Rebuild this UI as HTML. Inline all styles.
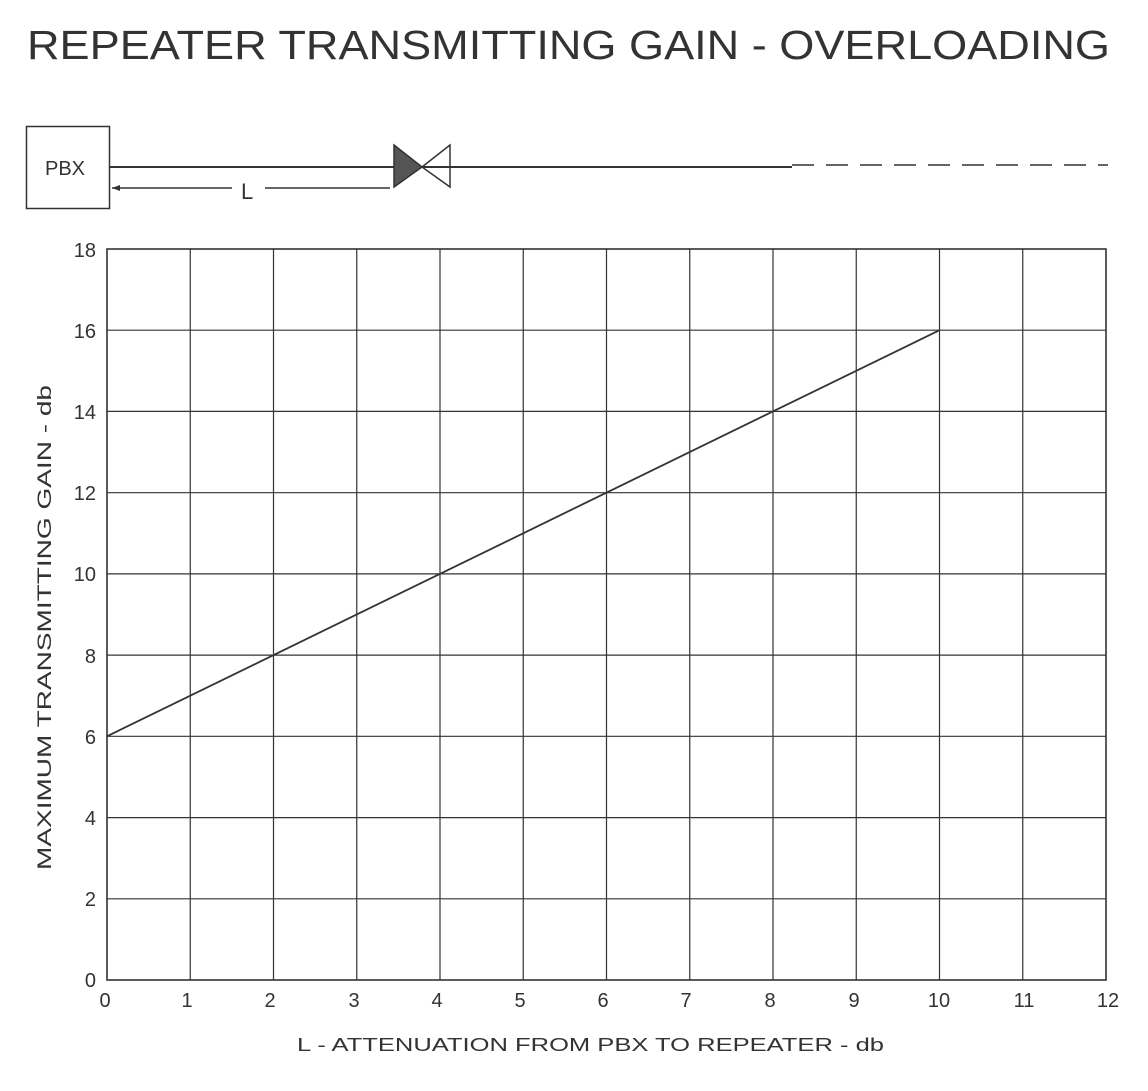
<!DOCTYPE html>
<html><head><meta charset="utf-8"><style>html,body{margin:0;padding:0;background:#fff}</style></head>
<body>
<svg width="1148" height="1086" xmlns="http://www.w3.org/2000/svg" font-family="Liberation Sans, DejaVu Sans, sans-serif" fill="#222">
<text x="27" y="59" font-size="41" textLength="1083" lengthAdjust="spacingAndGlyphs" fill="#333">REPEATER TRANSMITTING GAIN - OVERLOADING</text>
<rect x="26.5" y="126.5" width="83" height="82" fill="none" stroke="#333" stroke-width="1.5"/>
<text x="45" y="175" font-size="20" fill="#333">PBX</text>
<line x1="110" y1="167" x2="395" y2="167" stroke="#333" stroke-width="2"/>
<polygon points="394,145 422,167 394,187" fill="#555" stroke="#333" stroke-width="1.5"/>
<polygon points="450,145 422,167 450,187" fill="#fff" stroke="#333" stroke-width="1.5"/>
<line x1="422" y1="167" x2="792" y2="167" stroke="#333" stroke-width="2"/>
<line x1="792" y1="165" x2="1108" y2="165" stroke="#333" stroke-width="1.5" stroke-dasharray="22,12"/>
<line x1="112" y1="188" x2="232" y2="188" stroke="#333" stroke-width="1.5"/>
<line x1="265" y1="188" x2="390" y2="188" stroke="#333" stroke-width="1.5"/>
<polygon points="112,188 120,185 120,191" fill="#333"/>
<text x="241" y="199" font-size="22" fill="#333">L</text>
<g stroke="#333" stroke-width="1.2" fill="none">
<rect x="107" y="249" width="999" height="731" stroke-width="1.6"/>
<path d="M190.25 249V980M273.5 249V980M356.75 249V980M440 249V980M523.25 249V980M606.5 249V980M689.75 249V980M773 249V980M856.25 249V980M939.5 249V980M1022.75 249V980"/>
<path d="M107 330.2H1106M107 411.4H1106M107 492.7H1106M107 573.9H1106M107 655.1H1106M107 736.3H1106M107 817.6H1106M107 898.8H1106"/>
<line x1="107" y1="736.3" x2="939.5" y2="330.2" stroke-width="1.8"/>
</g>
<g font-size="20" text-anchor="end" fill="#333">
<text x="96" y="987">0</text><text x="96" y="906">2</text><text x="96" y="825">4</text><text x="96" y="744">6</text><text x="96" y="663">8</text><text x="96" y="581">10</text><text x="96" y="500">12</text><text x="96" y="419">14</text><text x="96" y="338">16</text><text x="96" y="257">18</text>
</g>
<g font-size="20" text-anchor="middle" fill="#333">
<text x="105" y="1007">0</text><text x="187" y="1007">1</text><text x="270" y="1007">2</text><text x="354" y="1007">3</text><text x="437" y="1007">4</text><text x="520" y="1007">5</text><text x="603" y="1007">6</text><text x="686" y="1007">7</text><text x="770" y="1007">8</text><text x="854" y="1007">9</text><text x="939" y="1007">10</text><text x="1024" y="1007">11</text><text x="1108" y="1007">12</text>
</g>
<text x="297" y="1051" font-size="18" textLength="587" lengthAdjust="spacingAndGlyphs" fill="#333">L - ATTENUATION FROM PBX TO REPEATER - db</text>
<text transform="translate(51,870) rotate(-90)" font-size="19" textLength="485" lengthAdjust="spacingAndGlyphs" fill="#333">MAXIMUM TRANSMITTING GAIN - db</text>
</svg>
</body></html>
